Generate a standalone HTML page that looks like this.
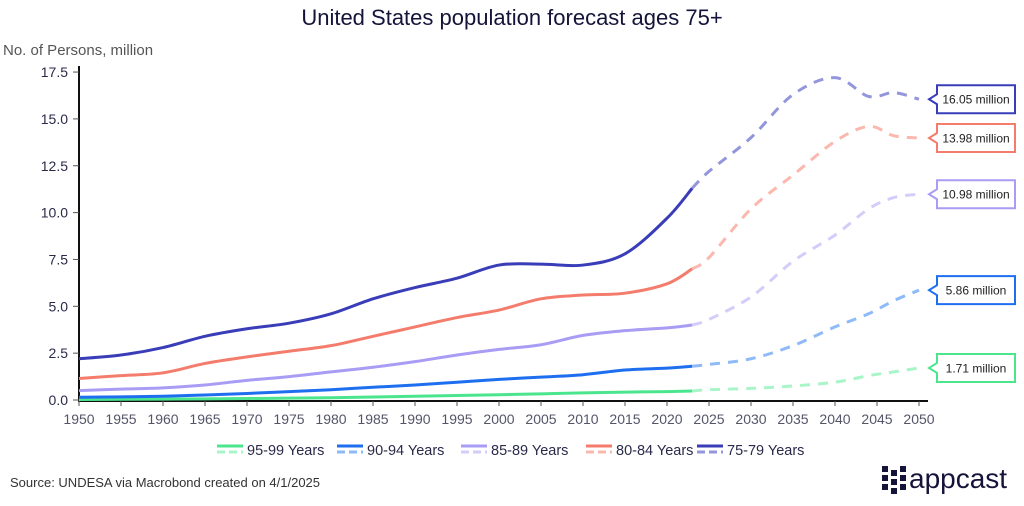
<!DOCTYPE html>
<html><head><meta charset="utf-8"><style>
body{margin:0;background:#fff;font-family:"Liberation Sans",sans-serif;}
svg text{font-family:"Liberation Sans",sans-serif;}
</style></head><body>
<svg id="chart" width="1024" height="501" viewBox="0 0 1024 501">
<text x="512" y="25" text-anchor="middle" font-size="22" fill="#14143a">United States population forecast ages 75+</text>
<text x="3" y="55" font-size="15" fill="#555">No. of Persons, million</text>
<g id="axes"></g>
<g id="series"></g>
<g id="labels"></g>
<g id="legend"></g>
<text x="10" y="487" font-size="13" fill="#333">Source: UNDESA via Macrobond created on 4/1/2025</text>
<g>
<g fill="#14143a">
<rect x="882" y="466" width="6" height="6"/><rect x="882" y="475" width="6" height="6"/><rect x="882" y="484" width="6" height="6"/>
<rect x="891" y="470" width="6" height="6"/><rect x="891" y="479" width="6" height="6"/><rect x="891" y="488" width="6" height="6"/>
<rect x="900" y="466" width="6" height="6"/><rect x="900" y="475" width="6" height="6"/><rect x="900" y="484" width="6" height="6"/>
</g>
<text x="909" y="488" font-size="28" fill="#14143a">appcast</text>
</g>
</svg>
<script>
const years = [1950,1955,1960,1965,1970,1975,1980,1985,1990,1995,2000,2005,2010,2015,2020,2023,2025,2030,2035,2040,2044,2047,2050];
const seriesNames = ["95-99 Years","90-94 Years","85-89 Years","80-84 Years","75-79 Years"];
const v9599 = [0.03,0.04,0.05,0.06,0.08,0.1,0.12,0.16,0.2,0.24,0.28,0.33,0.38,0.42,0.45,0.48,0.55,0.62,0.75,0.95,1.3,1.5,1.71];
const v9094 = [0.15,0.17,0.2,0.27,0.35,0.45,0.55,0.68,0.8,0.95,1.1,1.22,1.35,1.6,1.7,1.8,1.9,2.2,2.9,3.9,4.6,5.3,5.86];
const v8589 = [0.5,0.58,0.65,0.8,1.05,1.25,1.5,1.75,2.05,2.4,2.7,2.95,3.45,3.7,3.85,4.0,4.3,5.5,7.4,8.8,10.2,10.8,10.98];
const v8084 = [1.15,1.3,1.45,1.95,2.3,2.6,2.9,3.4,3.9,4.4,4.8,5.4,5.6,5.7,6.2,7.0,7.6,10.2,12.0,13.8,14.6,14.1,13.98];
const v7579 = [2.2,2.4,2.8,3.4,3.8,4.1,4.6,5.4,6.0,6.5,7.2,7.25,7.2,7.8,9.7,11.3,12.2,14.0,16.3,17.2,16.2,16.4,16.05];
const endLabels = ["1.71 million","5.86 million","10.98 million","13.98 million","16.05 million"];
const yTicks = [0,2.5,5,7.5,10,12.5,15,17.5];
const xTicks = [1950,1955,1960,1965,1970,1975,1980,1985,1990,1995,2000,2005,2010,2015,2020,2025,2030,2035,2040,2045,2050];
const forecastStart = 2023;

const colors = ["#4be58e","#1e6ff0","#a89cf5","#f47c6c","#3a3db8"];
const lightColors = ["#a8f5c8","#8fbaf8","#d3cdfa","#fab8ae","#9396db"];
const allValues = [v9599,v9094,v8589,v8084,v7579];
const NS="http://www.w3.org/2000/svg";
const X=y=>79+(y-1950)*8.4;
const Y=v=>400-v*18.74;
function mk(tag,attrs,parent){const e=document.createElementNS(NS,tag);for(const k in attrs)e.setAttribute(k,attrs[k]);parent.appendChild(e);return e;}
const axes=document.getElementById('axes');
let a=mk('line',{x1:79,y1:66,x2:79,y2:401,stroke:'#111','stroke-width':2},axes);


a=mk('line',{x1:78,y1:401,x2:928,y2:401,stroke:'#111','stroke-width':2},axes);


yTicks.forEach(t=>{
  mk('line',{x1:73,x2:79,y1:Y(t),y2:Y(t),stroke:'#555'},axes);
  const tx=mk('text',{x:68,y:Y(t)+5,'text-anchor':'end','font-size':14,fill:'#2a2a4a'},axes);
  tx.textContent=t.toFixed(1);
  
  
});
xTicks.forEach(t=>{
  mk('line',{x1:X(t),x2:X(t),y1:401,y2:406,stroke:'#555'},axes);
  const tx=mk('text',{x:X(t),y:424,'text-anchor':'middle','font-size':14,fill:'#55556a'},axes);
  tx.textContent=t;
  
  
});
function path(pts){
  let d='M'+pts[0][0]+','+pts[0][1];
  for(let i=0;i<pts.length-1;i++){
    const p0=pts[Math.max(0,i-1)],p1=pts[i],p2=pts[i+1],p3=pts[Math.min(pts.length-1,i+2)];
    const c1=[p1[0]+(p2[0]-p0[0])/6,p1[1]+(p2[1]-p0[1])/6];
    const c2=[p2[0]-(p3[0]-p1[0])/6,p2[1]-(p3[1]-p1[1])/6];
    d+=` C${c1[0]},${c1[1]} ${c2[0]},${c2[1]} ${p2[0]},${p2[1]}`;
  }
  return d;
}
const sg=document.getElementById('series');
const lg=document.getElementById('labels');
allValues.forEach((vals,si)=>{
  const hist=[],fc=[];
  years.forEach((yr,i)=>{const p=[X(yr),Y(vals[i])];if(yr<=forecastStart)hist.push(p);if(yr>=forecastStart)fc.push(p);});
  let p=mk('path',{d:path(hist),fill:'none',stroke:colors[si],'stroke-width':3},sg);
  
  
  p=mk('path',{d:path(fc),fill:'none',stroke:lightColors[si],'stroke-width':3,'stroke-dasharray':'10 8'},sg);
  
  
  const yv=Y(vals[vals.length-1]);
  const g=mk('g',{},lg);
  
  
  mk('path',{d:`M937,${yv-14} H1015 V${yv+14} H937 V${yv+5} L929,${yv} L937,${yv-5} Z`,fill:'#fff',stroke:colors[si],'stroke-width':2},g);
  const t=mk('text',{x:976,y:yv+4.5,'text-anchor':'middle','font-size':12,fill:'#222'},g);
  t.textContent=endLabels[si];
});
const leg=document.getElementById('legend');
const legX=[217,337,461,586,697];
seriesNames.forEach((n,i)=>{
  const g=mk('g',{},leg);
  
  
  mk('line',{x1:legX[i],x2:legX[i]+26,y1:446,y2:446,stroke:colors[i],'stroke-width':3},g);
  mk('line',{x1:legX[i],x2:legX[i]+26,y1:452,y2:452,stroke:lightColors[i],'stroke-width':3,'stroke-dasharray':'8 4'},g);
  const t=mk('text',{x:legX[i]+30,y:455,'font-size':14.5,fill:'#2a2a4a'},g);
  t.textContent=n;
});
</script>
</body></html>
